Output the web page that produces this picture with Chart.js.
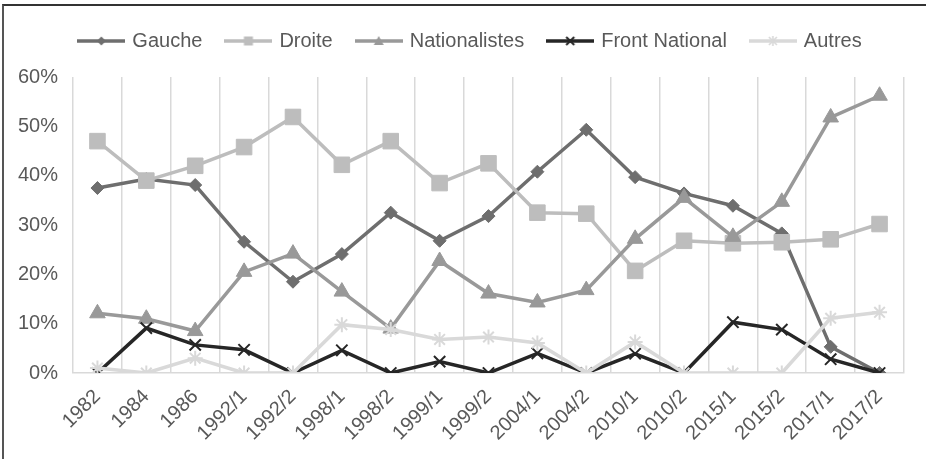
<!DOCTYPE html>
<html>
<head>
<meta charset="utf-8">
<script src="https://cdn.jsdelivr.net/npm/chart.js@4/dist/chart.umd.min.js"></script>
<style>
  html, body { margin: 0; padding: 0; background: #fff; overflow: hidden; }
  #frame {
    position: absolute; left: 2px; top: 4px; width: 1000px; height: 600px;
    border-top: 2px solid #333; border-left: 2px solid #555;
  }
  #wrap { position: absolute; left: 0; top: 0; width: 922px; height: 453px; }
</style>
</head>
<body>
<div id="frame"><div id="wrap"><canvas id="chart"></canvas></div></div>
<script>
const categories = ['1982', '1984', '1986', '1992/1', '1992/2', '1998/1', '1998/2', '1999/1', '1999/2',
  '2004/1', '2004/2', '2010/1', '2010/2', '2015/1', '2015/2', '2017/1', '2017/2'];
const gauche = [37.5, 39.3, 38.1, 26.6, 18.5, 24.1, 32.5, 26.8, 31.8, 40.8, 49.3, 39.7, 36.4, 33.9, 28.3, 5.3, 0];
const droite = [47.0, 39.0, 42.0, 45.8, 51.9, 42.2, 47.0, 38.5, 42.5, 32.5, 32.3, 20.7, 26.8, 26.3, 26.5, 27.1, 30.2];
const nationalistes = [12.1, 11.0, 8.5, 20.5, 24.2, 16.5, 9.0, 22.7, 16.1, 14.3, 16.8, 27.2, 35.5, 27.6, 34.7, 51.8, 56.2];
const frontNational = [0, 9.1, 5.7, 4.7, 0, 4.6, 0, 2.3, 0, 4.0, 0, 3.9, 0, 10.3, 8.8, 2.8, 0];
const autres = [1.0, 0, 3.0, 0, 0, 9.8, 8.8, 6.8, 7.3, 6.1, 0, 6.3, 0, 0, 0, 11.1, 12.3];
const yTicks = [0, 10, 20, 30, 40, 50, 60];

const FONT = "'Liberation Sans', Arial, sans-serif";
const TEXT = '#595959';
const GRID = '#d9d9d9';

const series = [
  { label: 'Gauche', data: gauche, color: '#6e6e6e', style: 'rectRot', radius: 6.5 },
  { label: 'Droite', data: droite, color: '#bdbdbd', style: 'rect', radius: 11 },
  { label: 'Nationalistes', data: nationalistes, color: '#999999', style: 'triangle', radius: 9 },
  { label: 'Front National', data: frontNational, color: '#262626', style: 'crossRot', radius: 8 },
  { label: 'Autres', data: autres, color: '#d9d9d9', style: 'star', radius: 7.5 },
];

// legend icon: short line with the marker in the middle
function legendIcon(s) {
  const c = document.createElement('canvas');
  c.width = 48; c.height = 16;
  const g = c.getContext('2d');
  g.strokeStyle = s.color; g.fillStyle = s.color; g.lineWidth = 3.5;
  g.beginPath(); g.moveTo(0, 8); g.lineTo(48, 8); g.stroke();
  g.lineWidth = 1.6;
  g.beginPath();
  if (s.style === 'rectRot') {
    g.moveTo(24, 3.5); g.lineTo(28.5, 8); g.lineTo(24, 12.5); g.lineTo(19.5, 8); g.closePath(); g.fill();
  } else if (s.style === 'rect') {
    g.fillRect(19.5, 3.5, 9, 9);
  } else if (s.style === 'triangle') {
    g.moveTo(24, 3); g.lineTo(29, 12); g.lineTo(19, 12); g.closePath(); g.fill();
  } else if (s.style === 'crossRot') {
    g.lineWidth = 2;
    g.moveTo(20, 4); g.lineTo(28, 12); g.moveTo(28, 4); g.lineTo(20, 12); g.stroke();
  } else {
    g.moveTo(20, 4); g.lineTo(28, 12); g.moveTo(28, 4); g.lineTo(20, 12);
    g.moveTo(24, 3); g.lineTo(24, 13); g.stroke();
  }
  return c;
}

const datasets = series.map((s, i) => ({
  label: s.label,
  data: s.data,
  borderColor: s.color,
  backgroundColor: s.color,
  borderWidth: 3.5,
  tension: 0,
  pointStyle: s.style,
  pointRadius: s.radius,
  pointHoverRadius: s.radius,
  pointBorderWidth: (s.style === 'crossRot' || s.style === 'star') ? 2 : 1,
  order: series.length - i,
  icon: legendIcon(s),
}));

// more room under the legend, and nudge it to the right like the original
const legendSpacing = {
  id: 'legendSpacing',
  afterInit(chart) {
    const legend = chart.legend;
    const fit = legend.fit;
    legend.fit = function () {
      fit.call(this);
      this.height += 16;
    };
  },
  afterLayout(chart) {
    chart.legend.left += 17;
    chart.legend.right += 17;
  }
};

new Chart(document.getElementById('chart'), {
  type: 'line',
  data: { labels: categories, datasets: datasets },
  options: {
    responsive: true,
    maintainAspectRatio: false,
    animation: false,
    layout: { padding: { top: 0, right: 22, left: 0, bottom: 0 } },
    plugins: {
      legend: {
        display: true,
        position: 'top',
        labels: {
          usePointStyle: true,
          pointStyleWidth: 42,
          padding: 25,
          color: TEXT,
          font: { family: FONT, size: 20 },
          generateLabels(chart) {
            return chart.data.datasets.map((ds, i) => ({
              text: ds.label,
              fillStyle: ds.borderColor,
              strokeStyle: ds.borderColor,
              fontColor: TEXT,
              pointStyle: ds.icon,
              lineWidth: 0,
              datasetIndex: i,
              hidden: false,
            }));
          }
        }
      },
      tooltip: { enabled: false }
    },
    scales: {
      x: {
        offset: true,
        grid: { display: true, color: GRID, lineWidth: 1.5, offset: true, drawTicks: false },
        border: { display: true, color: GRID, width: 1.5 },
        ticks: {
          color: TEXT,
          font: { family: FONT, size: 20 },
          minRotation: 45,
          maxRotation: 45,
          autoSkip: false,
          padding: 12,
        },
        afterFit(scale) { scale.height = 86; }
      },
      y: {
        min: 0,
        max: 60,
        grid: { display: false, drawTicks: false },
        border: { display: false },
        afterBuildTicks(scale) { scale.ticks = yTicks.map(v => ({ value: v })); },
        ticks: {
          color: TEXT,
          font: { family: FONT, size: 20 },
          padding: 15,
          callback: (v) => v + '%'
        },
        afterFit(scale) { scale.width = 69; }
      }
    }
  },
  plugins: [legendSpacing]
});
</script>
</body>
</html>
